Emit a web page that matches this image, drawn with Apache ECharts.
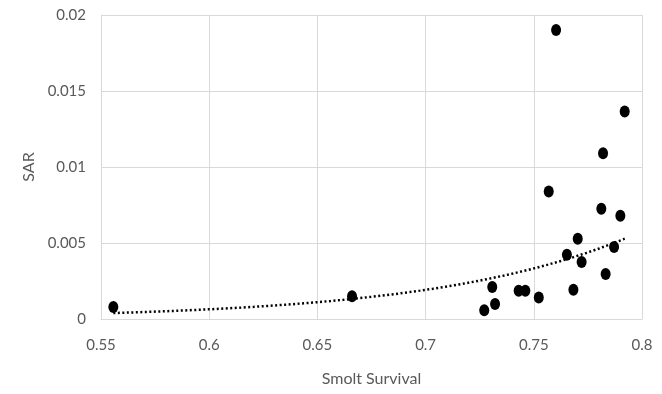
<!DOCTYPE html>
<html>
<head>
<meta charset="utf-8">
<script src="https://cdn.jsdelivr.net/npm/echarts@6/dist/echarts.min.js"></script>
<style>
  html, body { margin: 0; padding: 0; background: #fff; }
  #chart { width: 662px; height: 394px; }
</style>
</head>
<body>
<div id="chart"></div>
<script>
// smolt survival (x) vs SAR (y)
var survival = [0.5557, 0.666, 0.7271, 0.7308, 0.7321, 0.743, 0.7461, 0.7523, 0.7569, 0.7603,
  0.7653, 0.7683, 0.7703, 0.7721, 0.7812, 0.782, 0.7832, 0.7871, 0.79, 0.792];
var sar = [0.00079, 0.00149, 0.00057, 0.0021, 0.00099, 0.00186, 0.00186, 0.00142, 0.00839, 0.01901,
  0.00423, 0.00193, 0.00528, 0.00375, 0.00725, 0.0109, 0.00296, 0.00473, 0.00679, 0.01365];
var xTicks = [0.55, 0.6, 0.65, 0.7, 0.75, 0.8];
var yTicks = [0, 0.005, 0.01, 0.015, 0.02];

var points = survival.map(function (x, i) { return [x, sar[i]]; });

// exponential trend line fitted to the points (least squares on ln y)
var n = points.length, sx = 0, sy = 0, sxx = 0, sxy = 0;
points.forEach(function (p) {
  var ly = Math.log(p[1]);
  sx += p[0]; sy += ly; sxx += p[0] * p[0]; sxy += p[0] * ly;
});
var b = (n * sxy - sx * sy) / (n * sxx - sx * sx);
var a = Math.exp((sy - b * sx) / n);
var xMin = Math.min.apply(null, survival), xMax = Math.max.apply(null, survival);
var trend = [];
for (var k = 0; k <= 40; k++) {
  var tx = xMin + (xMax - xMin) * k / 40;
  trend.push([tx, a * Math.exp(b * tx)]);
}

var textColor = "#595959";
var gridColor = "#d9d9d9";
var font = "Lato, 'Open Sans', sans-serif";

var chart = echarts.init(document.getElementById("chart"));
var option = {
  animation: false,
  grid: { left: 101, right: 20, top: 15, bottom: 75, containLabel: false },
  xAxis: {
    type: "value",
    min: xTicks[0],
    max: xTicks[xTicks.length - 1],
    interval: 0.05,
    name: "Smolt Survival",
    nameLocation: "middle",
    nameGap: 52,
    nameTextStyle: { color: textColor, fontSize: 16, fontFamily: font },
    axisLine: { show: true, lineStyle: { color: gridColor, width: 1 } },
    axisTick: { show: false },
    axisLabel: {
      color: textColor, fontSize: 15, fontFamily: font, margin: 19,
      formatter: function (v) { return String(+v.toFixed(2)); }
    },
    splitLine: { show: true, lineStyle: { color: gridColor, width: 1 } }
  },
  yAxis: {
    type: "value",
    min: yTicks[0],
    max: yTicks[yTicks.length - 1],
    interval: 0.005,
    name: "SAR",
    nameLocation: "middle",
    nameGap: 62,
    nameRotate: 90,
    nameTextStyle: { color: textColor, fontSize: 16, fontFamily: font },
    axisLine: { show: true, lineStyle: { color: gridColor, width: 1 } },
    axisTick: { show: false },
    axisLabel: {
      color: textColor, fontSize: 15, fontFamily: font, margin: 15,
      formatter: function (v) { return String(+v.toFixed(3)); }
    },
    splitLine: { show: true, lineStyle: { color: gridColor, width: 1 } }
  },
  series: [
    {
      name: "Trend",
      type: "line",
      data: trend,
      showSymbol: false,
      smooth: false,
      lineStyle: { color: "#000", width: 2.5, type: [2, 2.5], cap: "butt" },
      z: 1
    },
    {
      name: "SAR",
      type: "scatter",
      data: points,
      symbol: "circle",
      symbolSize: [10, 12],
      itemStyle: { color: "#000", opacity: 1 },
      z: 2
    }
  ]
};
chart.setOption(option);
window.addEventListener("resize", chart.resize);
</script>
</body>
</html>
